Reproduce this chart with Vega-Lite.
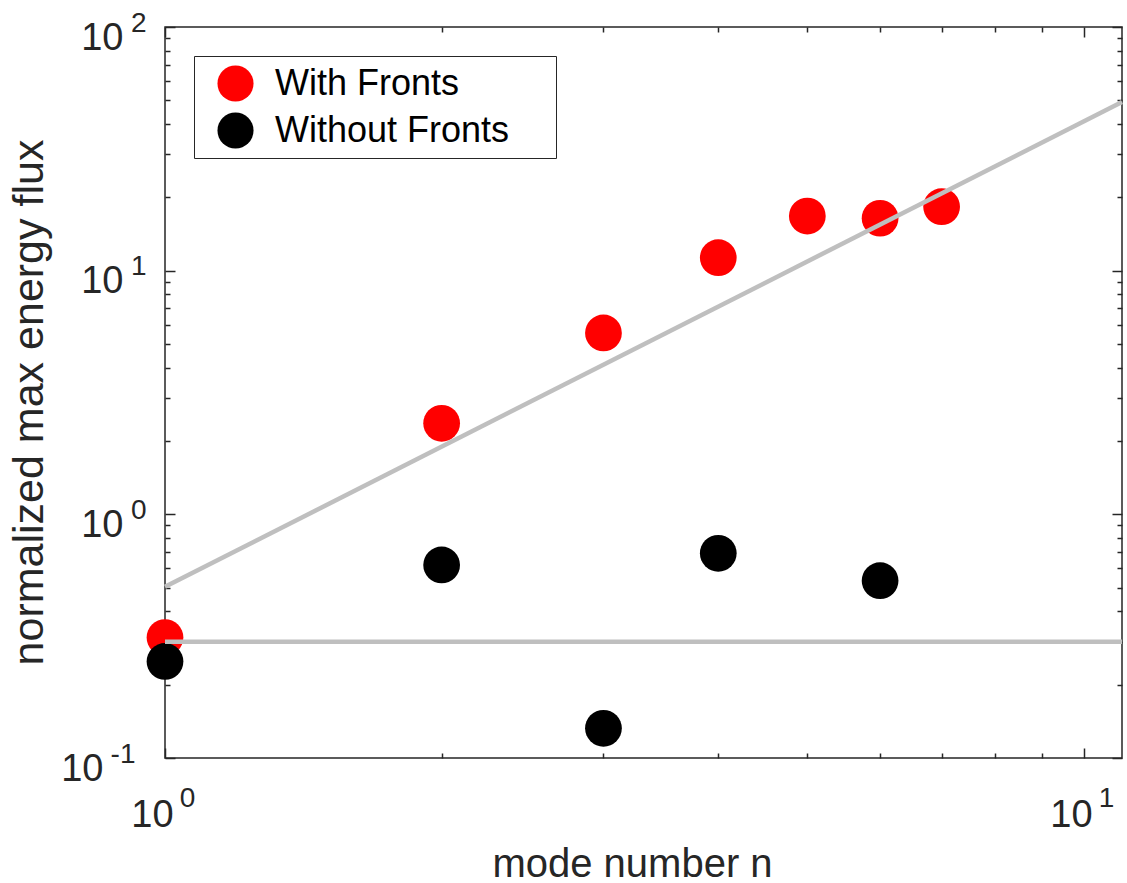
{
  "$schema": "https://vega.github.io/schema/vega-lite/v6.json",
  "width": 957,
  "height": 731,
  "autosize": {"type": "none"},
  "padding": {"left": 165, "top": 27, "right": 5, "bottom": 125},
  "background": "white",
  "datasets": {
    "pts": [
      {"series": "With Fronts", "n": 1, "v": 0.312},
      {"series": "With Fronts", "n": 2, "v": 2.364},
      {"series": "With Fronts", "n": 3, "v": 5.55},
      {"series": "With Fronts", "n": 4, "v": 11.3},
      {"series": "With Fronts", "n": 5, "v": 16.76},
      {"series": "With Fronts", "n": 6, "v": 16.41},
      {"series": "With Fronts", "n": 7, "v": 18.3},
      {"series": "Without Fronts", "n": 1, "v": 0.249},
      {"series": "Without Fronts", "n": 2, "v": 0.62},
      {"series": "Without Fronts", "n": 3, "v": 0.1324},
      {"series": "Without Fronts", "n": 4, "v": 0.692},
      {"series": "Without Fronts", "n": 6, "v": 0.534}
    ],
    "fits": [
      {"fit": "diag", "n": 1, "v": 0.504},
      {"fit": "diag", "n": 11, "v": 49.2},
      {"fit": "flat", "n": 1, "v": 0.30},
      {"fit": "flat", "n": 11, "v": 0.30}
    ]
  },
  "layer": [
    {
      "data": {"name": "pts"},
      "transform": [{"filter": "datum.series == 'With Fronts'"}],
      "mark": {"type": "circle", "size": 1350, "opacity": 1},
      "encoding": {
        "x": {"field": "n", "type": "quantitative",
          "scale": {"type": "log", "domain": [1, 11], "nice": false},
          "axis": {"orient": "bottom", "values": [1, 10], "labelExpr": "'10'", "ticks": false,
            "labelFontSize": 38, "labelAlign": "center", "labelBaseline": "alphabetic",
            "labelPadding": 68, "labelOffset": -13,
            "title": "mode number n", "titleFontSize": 40, "titleX": 467, "titleY": 118,
            "titleAlign": "center", "titleBaseline": "alphabetic"}},
        "y": {"field": "v", "type": "quantitative",
          "scale": {"type": "log", "domain": [0.1, 100], "nice": false},
          "axis": {"orient": "left", "values": [0.1, 1, 10, 100], "labelExpr": "'10'", "ticks": false,
            "labelFontSize": 38, "labelAlign": "right", "labelBaseline": "alphabetic",
            "labelPadding": {"condition": {"test": "datum.value < 0.5", "value": 62}, "value": 42},
            "labelOffset": 22,
            "title": "normalized max energy flux", "titleFontSize": 43, "titleX": -123, "titleY": 375,
            "titleAngle": -90, "titleAlign": "center", "titleBaseline": "alphabetic"}},
        "color": {"field": "series", "type": "nominal",
          "scale": {"domain": ["With Fronts", "Without Fronts"], "range": ["#ff0000", "#000000"]},
          "legend": {"orient": "top-left", "offset": 29, "title": null,
            "labelExpr": "datum.label + '\u00a0\u00a0\u00a0\u2009\u200b'"}}
      }
    },
    {
      "data": {"name": "pts"},
      "transform": [{"filter": "datum.series == 'Without Fronts'"}],
      "mark": {"type": "circle", "size": 1350, "opacity": 1},
      "encoding": {
        "x": {"field": "n", "type": "quantitative",
          "scale": {"type": "log", "domain": [1, 11], "nice": false},
          "axis": {"orient": "bottom", "values": [1, 10], "labelExpr": "datum.value < 5 ? '0' : '1'", "ticks": false,
            "labelFontSize": 28, "labelAlign": "center", "labelBaseline": "alphabetic",
            "labelPadding": 48, "labelOffset": 22, "title": null}},
        "y": {"field": "v", "type": "quantitative",
          "scale": {"type": "log", "domain": [0.1, 100], "nice": false},
          "axis": {"orient": "left", "values": [0.1, 1, 10, 100],
            "labelExpr": "datum.value < 0.5 ? '-1' : datum.value < 5 ? '0' : datum.value < 50 ? '1' : '2'", "ticks": false,
            "labelFontSize": 28, "labelAlign": "right", "labelBaseline": "alphabetic",
            "labelPadding": {"condition": {"test": "datum.value < 0.5", "value": 30}, "value": 19},
            "labelOffset": 4, "title": null}},
        "color": {"field": "series", "type": "nominal",
          "scale": {"domain": ["With Fronts", "Without Fronts"], "range": ["#ff0000", "#000000"]},
          "legend": {"orient": "top-left", "offset": 29, "title": null,
            "labelExpr": "datum.label + '\u00a0\u00a0\u00a0\u2009\u200b'"}}
      }
    },
    {
      "data": {"name": "fits"},
      "transform": [{"filter": "datum.fit == 'diag'"}],
      "mark": {"type": "line", "color": "#bfbfbf", "strokeWidth": 4.5},
      "encoding": {
        "x": {"field": "n", "type": "quantitative",
          "scale": {"type": "log", "domain": [1, 11], "nice": false},
          "axis": {"orient": "bottom", "values": [1, 2, 3, 4, 5, 6, 7, 8, 9, 10], "labels": false, "ticks": true,
            "tickSize": {"condition": {"test": "datum.value == 1 || datum.value == 10", "value": -10}, "value": -5},
            "title": null}},
        "y": {"field": "v", "type": "quantitative",
          "scale": {"type": "log", "domain": [0.1, 100], "nice": false},
          "axis": {"orient": "left", "values": [0.1, 0.2, 0.3, 0.4, 0.5, 0.6, 0.7, 0.8, 0.9, 1, 2, 3, 4, 5, 6, 7, 8, 9, 10, 20, 30, 40, 50, 60, 70, 80, 90, 100],
            "labels": false, "ticks": true,
            "tickSize": {"condition": {"test": "datum.value == 0.1 || datum.value == 1 || datum.value == 10 || datum.value == 100", "value": -10}, "value": -5},
            "title": null}}
      }
    },
    {
      "data": {"name": "fits"},
      "transform": [{"filter": "datum.fit == 'flat'"}],
      "mark": {"type": "line", "color": "#bfbfbf", "strokeWidth": 4.5},
      "encoding": {
        "x": {"field": "n", "type": "quantitative",
          "scale": {"type": "log", "domain": [1, 11], "nice": false},
          "axis": {"orient": "top", "values": [1, 2, 3, 4, 5, 6, 7, 8, 9, 10], "labels": false, "ticks": true,
            "tickSize": {"condition": {"test": "datum.value == 1 || datum.value == 10", "value": -10}, "value": -5},
            "title": null}},
        "y": {"field": "v", "type": "quantitative",
          "scale": {"type": "log", "domain": [0.1, 100], "nice": false},
          "axis": {"orient": "right", "values": [0.1, 0.2, 0.3, 0.4, 0.5, 0.6, 0.7, 0.8, 0.9, 1, 2, 3, 4, 5, 6, 7, 8, 9, 10, 20, 30, 40, 50, 60, 70, 80, 90, 100],
            "labels": false, "ticks": true,
            "tickSize": {"condition": {"test": "datum.value == 0.1 || datum.value == 1 || datum.value == 10 || datum.value == 100", "value": -10}, "value": -5},
            "title": null}}
      }
    }
  ],
  "resolve": {"axis": {"x": "independent", "y": "independent"}},
  "config": {
    "view": {"stroke": "#262626", "strokeWidth": 1.5},
    "axis": {
      "grid": false, "domain": false,
      "labelFont": "Liberation Sans", "titleFont": "Liberation Sans",
      "labelColor": "#262626", "titleColor": "#262626", "tickColor": "#262626", "tickWidth": 1.5,
      "titleFontWeight": "normal", "labelOverlap": false, "labelFlush": false
    },
    "legend": {
      "symbolType": "circle", "symbolSize": 1300, "symbolStrokeWidth": 0,
      "labelFont": "Liberation Sans", "labelFontSize": 36, "labelColor": "#000000", "labelLimit": 600,
      "padding": 9, "strokeColor": "#262626", "fillColor": "white",
      "rowPadding": 10, "labelOffset": 21, "symbolOffset": 14
    }
  }
}
